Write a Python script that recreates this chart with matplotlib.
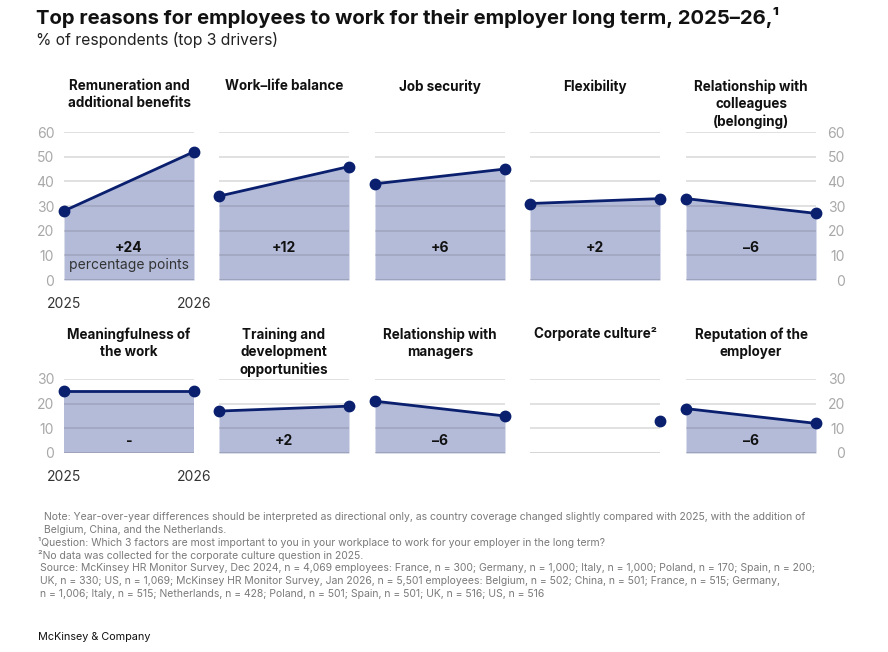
import matplotlib
matplotlib.use("Agg")
import matplotlib.pyplot as plt

plt.rcParams['font.family'] = ['Inter', 'DejaVu Sans']

# data
top_titles = ["Remuneration and\nadditional benefits", "Work\u2013life balance", "Job security",
              "Flexibility", "Relationship with\ncolleagues\n(belonging)"]
top_2025 = [28, 34, 39, 31, 33]
top_2026 = [52, 46, 45, 33, 27]
top_delta = ["+24", "+12", "+6", "+2", "\u20136"]

bot_titles = ["Meaningfulness of\nthe work", "Training and\ndevelopment\nopportunities",
              "Relationship with\nmanagers", "Corporate culture\u00b2", "Reputation of the\nemployer"]
bot_2025 = [25, 17, 21, None, 18]
bot_2026 = [25, 19, 15, 13, 12]
bot_delta = ["-", "+2", "\u20136", "", "\u20136"]

years = ["2025", "2026"]
top_ticks = [0, 10, 20, 30, 40, 50, 60]
bot_ticks = [0, 10, 20, 30]

FILL = "#b3bbd9"
NAVY = "#0a1f6e"
W, H = 888, 652

fig = plt.figure(figsize=(W / 100, H / 100), dpi=100)


def px_axes(x, ytop, w, h):
    return fig.add_axes([x / W, 1 - (ytop + h) / H, w / W, h / H])


lefts = [64, 219, 375, 530, 686]


def draw_row(titles, v25, v26, deltas, ticks, ytop, h, title_y, delta_y, pp):
    for i in range(5):
        ax = px_axes(lefts[i], ytop, 130, h)
        ax.set_xlim(0, 1)
        ax.set_ylim(0, ticks[-1])
        for s in ax.spines.values():
            s.set_visible(False)
        for t in ticks[1:]:
            ax.axhline(t, color="#5a5a5a", alpha=0.18, lw=1.4, zorder=3)
        ax.axhline(0, color="#5a5a5a", alpha=0.32, lw=1.8, zorder=3)
        if v25[i] is not None:
            ax.fill_between([0, 1], [v25[i], v26[i]], 0, color=FILL, lw=0, zorder=1)
            ax.plot([0, 1], [v25[i], v26[i]], color=NAVY, lw=2, zorder=4)
            ax.plot([0, 1], [v25[i], v26[i]], "o", color=NAVY, ms=7.5, zorder=5, clip_on=False)
        else:
            ax.plot([1], [v26[i]], "o", color=NAVY, ms=7.5, zorder=5, clip_on=False)
        ax.text(0.5, delta_y, deltas[i], ha="center", va="center", fontsize=10,
                fontweight="bold", color="#111111", zorder=6)
        if pp and i == 0:
            ax.text(0.5, delta_y - 6.8, "percentage points", ha="center", va="center",
                    fontsize=10, color="#333333", zorder=6)
        fig.text((lefts[i] + 65) / W, 1 - title_y / H, titles[i], ha="center", va="top",
                 fontsize=9.7, fontweight="bold", color="#111111", linespacing=1.3)
        ax.set_yticks(ticks)
        if i == 0:
            ax.set_yticklabels([str(t) for t in ticks])
            ax.tick_params(axis="y", length=0, pad=7, labelsize=10, labelcolor="#a8a8a8")
            ax.set_xticks([0, 1])
            ax.set_xticklabels(years)
            ax.tick_params(axis="x", length=0, pad=12, labelsize=10, labelcolor="#333333")
        elif i == 4:
            ax.yaxis.tick_right()
            ax.set_yticklabels([str(t) for t in ticks])
            ax.tick_params(axis="y", length=0, pad=21, labelsize=10, labelcolor="#a8a8a8")
            for lb in ax.get_yticklabels():
                lb.set_ha("right")
            ax.set_xticks([])
        else:
            ax.set_yticks([])
            ax.set_xticks([])


draw_row(top_titles, top_2025, top_2026, top_delta, top_ticks, 132, 148, 79, 13.0, True)
draw_row(bot_titles, bot_2025, bot_2026, bot_delta, bot_ticks, 379, 74, 327, 5, False)

fig.text(36 / W, 1 - 18 / H, "Top reasons for employees to work for their employer long term, 2025\u201326,\u00b9",
         ha="left", va="center", fontsize=14.6, fontweight="bold", color="#111111")
fig.text(36 / W, 1 - 39.5 / H, "% of respondents (top 3 drivers)", ha="left", va="center",
         fontsize=11.3, color="#222222")

notes = [
    (44, "Note: Year-over-year differences should be interpreted as directional only, as country coverage changed slightly compared with 2025, with the addition of"),
    (44, "Belgium, China, and the Netherlands."),
    (38, "\u00b9Question: Which 3 factors are most important to you in your workplace to work for your employer in the long term?"),
    (38, "\u00b2No data was collected for the corporate culture question in 2025."),
    (40, "Source: McKinsey HR Monitor Survey, Dec 2024, n = 4,069 employees: France, n = 300; Germany, n = 1,000; Italy, n = 1,000; Poland, n = 170; Spain, n = 200;"),
    (40, "UK, n = 330; US, n = 1,069; McKinsey HR Monitor Survey, Jan 2026, n = 5,501 employees: Belgium, n = 502; China, n = 501; France, n = 515; Germany,"),
    (40, "n = 1,006; Italy, n = 515; Netherlands, n = 428; Poland, n = 501; Spain, n = 501; UK, n = 516; US, n = 516"),
]
for k, (x, line) in enumerate(notes):
    fig.text(x / W, 1 - (517 + 12.8 * k) / H, line, ha="left", va="center",
             fontsize=7.5, color="#7a7a7a")

fig.text(38 / W, 1 - 637 / H, "McKinsey & Company", ha="left", va="center",
         fontsize=7.8, color="#111111")

fig.savefig("out.png", dpi=100)
